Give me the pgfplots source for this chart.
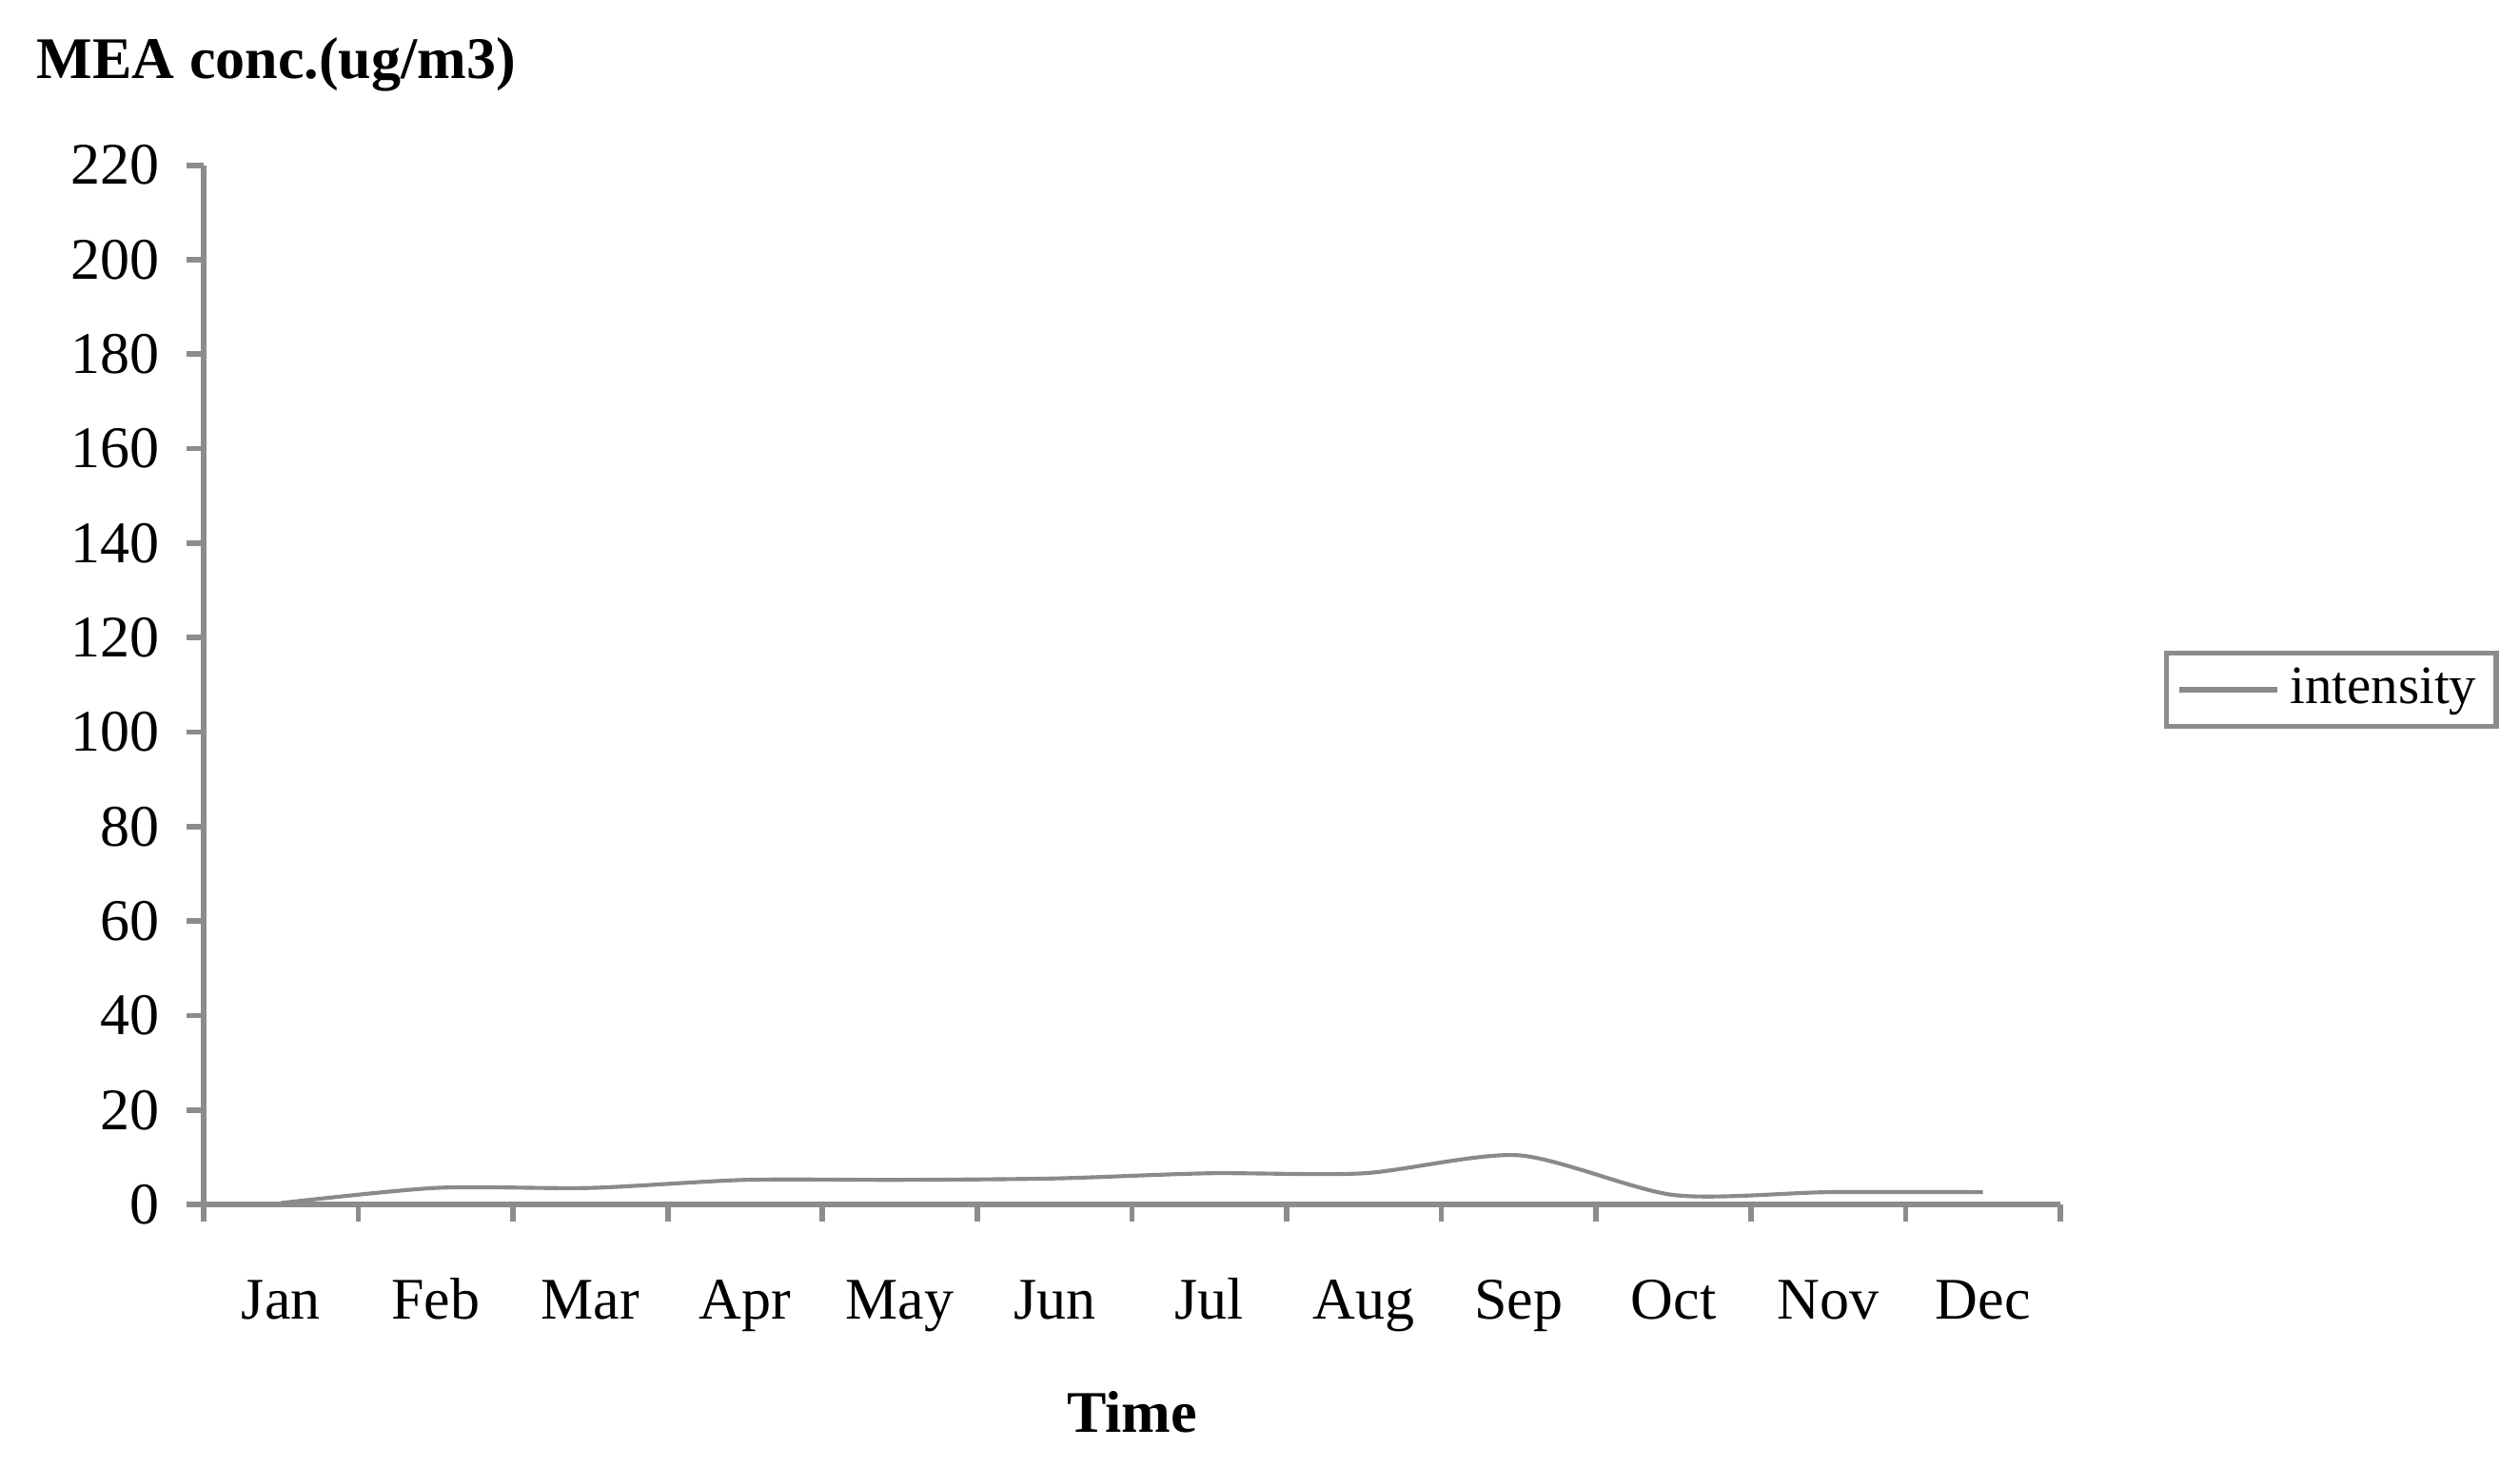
\documentclass[border=0pt]{standalone}
\usepackage{fontspec}
\setmainfont{Liberation Serif}
\usepackage{pgfplots}
\pgfplotsset{compat=1.18}
\definecolor{axgray}{HTML}{8C8C8C}
\definecolor{lngray}{HTML}{8A8A8A}

\begin{document}
\fontsize{11pt}{13pt}\selectfont
\begin{tikzpicture}
\begin{axis}[
    scale only axis,
    width=13.27cm,
    height=7.43cm,
    xmin=0.5, xmax=12.5,
    ymin=0, ymax=220,
    axis x line*=bottom,
    axis y line*=left,
    axis line style={axgray, line width=1.1pt, -},
    xtick={1,...,12},
    xticklabels={Jan,Feb,Mar,Apr,May,Jun,Jul,Aug,Sep,Oct,Nov,Dec},
    major x tick style={draw=none},
    minor xtick={0.5,1.5,...,12.5},
    minor tick length=0.12cm,
    minor x tick style={axgray, line width=1.1pt},
    ytick={0,20,...,220},
    major tick length=0.12cm,
    major y tick style={axgray, line width=1.1pt},
    tick align=outside,
    xticklabel style={font=\fontsize{12pt}{14pt}\selectfont, text height=0.7em, text depth=0.22em, yshift=-0.29cm},
    yticklabel style={font=\fontsize{12pt}{14pt}\selectfont, xshift=-0.06cm},
    /pgf/number format/assume math mode=true,
    xlabel={\textbf{Time}},
    xlabel style={font=\fontsize{12pt}{14pt}\selectfont, at={(rel axis cs:0.5,-0.2)}, anchor=center},
    ylabel={\textbf{MEA conc.(ug/m3)}},
    ylabel style={font=\fontsize{12pt}{14pt}\selectfont, rotate=-90, anchor=west, at={(rel axis cs:-0.1,1.097)}},
    legend style={at={(rel axis cs:1.056,0.495)}, anchor=west, draw=axgray, line width=1pt,
        font=\fontsize{11pt}{13pt}\selectfont, inner xsep=2pt, inner ysep=1pt},
    legend image post style={line width=1.2pt},
    legend image code/.code={\draw[#1] (0cm,0cm) -- (0.7cm,0cm);},
    legend cell align=left,
    clip=false,
]
\addplot[lngray, line width=0.8pt, smooth, tension=0.45] coordinates {
    (1,0.3) (2,3.5) (3,3.5) (4,5.2) (5,5.2) (6,5.5) (7,6.6) (8,6.6) (9,10.4) (10,2.0) (11,2.6) (12,2.6)
};
\addlegendentry{intensity}
\coordinate (bl) at (rel axis cs:-0.1097,-0.2525);
\coordinate (tr) at (rel axis cs:1.2476,1.159);
\end{axis}
\path (bl) rectangle (tr);
\end{tikzpicture}
\end{document}
